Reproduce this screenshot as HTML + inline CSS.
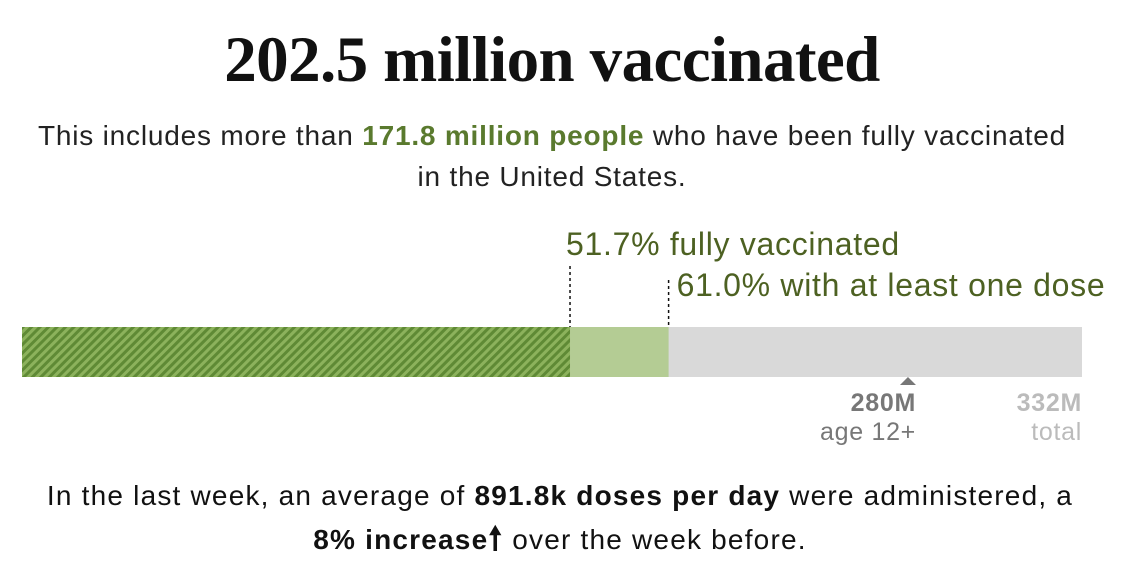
<!DOCTYPE html>
<html><head><meta charset="utf-8"><style>
body{margin:0;width:1147px;height:580px;background:#fff;position:relative;font-family:"Liberation Sans",sans-serif;overflow:hidden}
.abs{position:absolute}
h1{position:absolute;left:0;width:1104px;top:23px;margin:0;text-align:center;font-family:"Liberation Serif",serif;font-weight:bold;font-size:65px;letter-spacing:-0.6px;color:#111}
.sub{position:absolute;left:0;width:1104px;text-align:center;font-size:28px;letter-spacing:0.8px;color:#222;line-height:41px}
.g{color:#5a7a2e;font-weight:bold}
.lbl{position:absolute;font-size:32px;letter-spacing:0.7px;color:#4d6122;white-space:nowrap}
</style></head><body>
<h1>202.5 million vaccinated</h1>
<div class="sub" style="top:115px">This includes more than <span class="g">171.8 million people</span> who have been fully vaccinated<br>in the United States.</div>
<svg class="abs" style="left:0;top:0" width="1147" height="460">
<defs><pattern id="h" width="6" height="6" patternUnits="userSpaceOnUse" patternTransform="rotate(45)"><rect width="6" height="6" fill="#8cb25c"/><rect width="3" height="6" fill="#5f8a35"/></pattern></defs>
<g id="g"></g>
</svg>
<div class="lbl" id="l1" style="top:226px">51.7% fully vaccinated</div>
<div class="lbl" id="l2" style="top:267px">61.0% with at least one dose</div>
<div class="abs" id="m1" style="top:389px;text-align:right;font-size:25px;letter-spacing:0.7px;line-height:29px;color:#777"><b>280M</b><br>age 12+</div>
<div class="abs" id="m2" style="top:389px;text-align:right;font-size:25px;letter-spacing:0.7px;line-height:29px;color:#bbb"><b>332M</b><br>total</div>
<div class="sub" style="top:475px;line-height:42px;color:#111;letter-spacing:1.2px;left:8px">In the last week, an average of <b>891.8k doses per day</b> were administered, a<br><b>8% increase</b><b style="font-size:32px">🠕</b> over the week before.</div>
<script>
const fullPct=51.7, onePct=61.0, eligible=280, total=332;
const x0=22,x1=1082,y=327,h=50;
const sx=p=>x0+(x1-x0)*p/100;
const g=document.getElementById('g');
const ns='http://www.w3.org/2000/svg';
function r(x,w,f,n){const e=document.createElementNS(ns,'rect');e.setAttribute('x',x);e.setAttribute('y',y);e.setAttribute('width',w);e.setAttribute('height',h);e.setAttribute('fill',f);


g.appendChild(e);}
r(x0,x1-x0,'#d9d9d9','bar-total');
r(sx(fullPct),sx(onePct)-sx(fullPct),'#b4cc94','bar-one-dose');
r(x0,sx(fullPct)-x0,'url(#h)','bar-fully');
function l(x,y1,n){const e=document.createElementNS(ns,'line');e.setAttribute('x1',x);e.setAttribute('x2',x);e.setAttribute('y1',y1);e.setAttribute('y2',y);e.setAttribute('stroke','#111');e.setAttribute('stroke-width','1.5');e.setAttribute('stroke-dasharray','3,3');


g.appendChild(e);}
l(sx(fullPct),266,'fully-leader');l(sx(onePct),280,'one-dose-leader');
document.getElementById('l1').style.left=(sx(fullPct)-4)+'px';
document.getElementById('l2').style.left=(sx(onePct)+8)+'px';
const ex=x0+(x1-x0)*eligible/total;
const t=document.createElementNS(ns,'polygon');
t.setAttribute('points',(ex-16)+',385 '+(ex-8)+',377 '+ex+',385');t.setAttribute('fill','#777');


g.appendChild(t);
const m1=document.getElementById('m1');m1.style.right=(1147-ex)+'px';
const m2=document.getElementById('m2');m2.style.right=(1147-x1)+'px';
</script>
</body></html>
